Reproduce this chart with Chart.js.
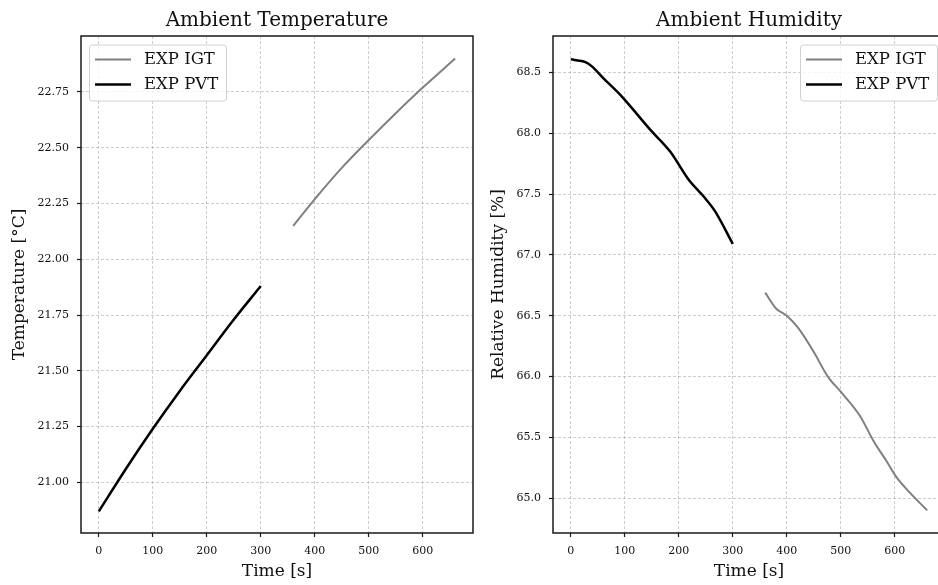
<!DOCTYPE html>
<html>
<head>
<meta charset="utf-8">
<script src="https://cdn.jsdelivr.net/npm/chart.js@4.4.1/dist/chart.umd.min.js"></script>
<style>
  html, body { margin: 0; padding: 0; background: #fff; overflow: hidden; }
  #wrap { position: relative; width: 938px; height: 585px; overflow: hidden; }
  canvas { position: absolute; top: 0; }
  #tempChart { left: 0; }
  #humChart { left: 469px; }
</style>
</head>
<body>
<div id="wrap">
  <canvas id="tempChart" width="480" height="585"></canvas>
  <canvas id="humChart" width="480" height="585"></canvas>
</div>
<script>
// --- data ---
const timeTempPvt = [0, 50, 100, 150, 200, 250, 300];
const tempPvt = [20.87, 21.06, 21.24, 21.41, 21.57, 21.73, 21.88];

const timeTempIgt = [360, 400, 450, 500, 550, 600, 660];
const tempIgt = [22.15, 22.27, 22.41, 22.535, 22.655, 22.77, 22.90];

const timeHumPvt = [0, 10, 27, 39, 61, 95, 147, 184, 218, 246, 267, 300];
const humPvt = [68.61, 68.60, 68.585, 68.55, 68.45, 68.30, 68.03, 67.85, 67.62, 67.48, 67.36, 67.09];

const timeHumIgt = [360, 380, 400, 421, 449, 476, 501, 535, 562, 584, 602, 627, 660];
const humIgt = [66.69, 66.56, 66.50, 66.40, 66.21, 66.00, 65.87, 65.68, 65.46, 65.31, 65.18, 65.05, 64.90];

const timeTicks = [0, 100, 200, 300, 400, 500, 600];
const tempTicks = [21.0, 21.25, 21.5, 21.75, 22.0, 22.25, 22.5, 22.75];
const humTicks = [65.0, 65.5, 66.0, 66.5, 67.0, 67.5, 68.0, 68.5];

const COLORS = {
  igt: '#808080',
  pvt: '#000000',
  frame: '#1a1a1a',
  grid: 'rgba(150,150,150,0.6)',
  text: '#111111'
};
const FONT = '"DejaVu Serif", "Liberation Serif", serif';

function toPoints(xs, ys) {
  return xs.map((x, i) => ({ x: x, y: ys[i] }));
}

// title centred over the plot area, frame on all four sides, legend inside the axes
const axesDecor = {
  id: 'axesDecor',
  afterDraw(chart, args, opts) {
    const ctx = chart.ctx;
    const a = chart.chartArea;
    ctx.save();
    // frame
    ctx.strokeStyle = COLORS.frame;
    ctx.lineWidth = 1.5;
    ctx.strokeRect(a.left, a.top, a.right - a.left, a.bottom - a.top);

    // title
    ctx.fillStyle = COLORS.text;
    ctx.font = '20px ' + FONT;
    ctx.textAlign = 'center';
    ctx.textBaseline = 'alphabetic';
    ctx.fillText(opts.title, (a.left + a.right) / 2, 26);

    // legend
    const boxW = 137, boxH = 56;
    const bx = opts.legendSide === 'right' ? a.right - 8 - boxW : a.left + 8;
    const by = a.top + 8.5;
    ctx.beginPath();
    ctx.roundRect(bx + 0.5, by + 0.5, boxW, boxH, 3);
    ctx.fillStyle = 'rgba(255,255,255,0.8)';
    ctx.fill();
    ctx.strokeStyle = '#d0d0d0';
    ctx.lineWidth = 1;
    ctx.stroke();

    ctx.font = '16.5px ' + FONT;
    ctx.textAlign = 'left';
    ctx.textBaseline = 'middle';
    chart.data.datasets.forEach((ds, i) => {
      const y = by + 15 + i * 25;
      ctx.beginPath();
      ctx.strokeStyle = ds.borderColor;
      ctx.lineWidth = ds.borderWidth;
      ctx.moveTo(bx + 6, y);
      ctx.lineTo(bx + 42, y);
      ctx.stroke();
      ctx.fillStyle = COLORS.text;
      ctx.fillText(ds.label, bx + 55, y);
    });
    ctx.restore();
  }
};

function makeChart(canvasId, cfg) {
  const ctx = document.getElementById(canvasId);
  return new Chart(ctx, {
    type: 'line',
    data: {
      datasets: [{
        label: 'EXP IGT',
        data: cfg.igt,
        borderColor: COLORS.igt,
        borderWidth: 2,
        pointRadius: 0,
        cubicInterpolationMode: 'monotone',
        fill: false
      }, {
        label: 'EXP PVT',
        data: cfg.pvt,
        borderColor: COLORS.pvt,
        borderWidth: 2.5,
        pointRadius: 0,
        cubicInterpolationMode: 'monotone',
        fill: false
      }]
    },
    options: {
      responsive: false,
      animation: false,
      devicePixelRatio: 1,
      layout: { padding: { left: 0, right: cfg.padRight, top: 36, bottom: 0 } },
      plugins: {
        legend: { display: false },
        tooltip: { enabled: false },
        axesDecor: { title: cfg.title, legendSide: cfg.legendSide }
      },
      scales: {
        x: {
          type: 'linear',
          min: -33,
          max: 693,
          afterFit: s => { s.height = 52; },
          afterBuildTicks: s => { s.ticks = timeTicks.map(v => ({ value: v })); },
          ticks: {
            color: COLORS.text,
            font: { family: FONT, size: 11 },
            padding: 8,
            maxRotation: 0,
            autoSkip: false
          },
          grid: {
            color: COLORS.grid,
            lineWidth: 0.8,
            tickLength: 4,
            tickColor: COLORS.frame,
            tickWidth: 1.2,
            tickBorderDash: []
          },
          border: { display: false, dash: [3, 2] },
          title: {
            display: true,
            text: 'Time [s]',
            color: COLORS.text,
            font: { family: FONT, size: 17 },
            padding: { top: 0, bottom: 3 }
          }
        },
        y: {
          type: 'linear',
          min: cfg.yMin,
          max: cfg.yMax,
          afterFit: s => { s.width = cfg.yAxisWidth; },
          afterBuildTicks: s => { s.ticks = cfg.yTicks.map(v => ({ value: v })); },
          ticks: {
            color: COLORS.text,
            font: { family: FONT, size: 11 },
            padding: 8,
            callback: v => v.toFixed(cfg.decimals)
          },
          grid: {
            color: COLORS.grid,
            lineWidth: 0.8,
            tickLength: 4,
            tickColor: COLORS.frame,
            tickWidth: 1.2,
            tickBorderDash: []
          },
          border: { display: false, dash: [3, 2] },
          title: {
            display: true,
            text: cfg.yLabel,
            color: COLORS.text,
            font: { family: FONT, size: 17 },
            padding: { top: cfg.yTitlePad, bottom: 0 }
          }
        }
      }
    },
    plugins: [axesDecor]
  });
}

makeChart('tempChart', {
  title: 'Ambient Temperature',
  yLabel: 'Temperature [°C]',
  igt: toPoints(timeTempIgt, tempIgt),
  pvt: toPoints(timeTempPvt, tempPvt),
  yMin: 20.773,
  yMax: 23.001,
  yTicks: tempTicks,
  decimals: 2,
  yAxisWidth: 81,
  yTitlePad: 9,
  padRight: 7,
  legendSide: 'left'
});

makeChart('humChart', {
  title: 'Ambient Humidity',
  yLabel: 'Relative Humidity [%]',
  igt: toPoints(timeHumIgt, humIgt),
  pvt: toPoints(timeHumPvt, humPvt),
  yMin: 64.714,
  yMax: 68.80,
  yTicks: humTicks,
  decimals: 1,
  yAxisWidth: 84,
  yTitlePad: 19,
  padRight: 4,
  legendSide: 'right'
});
</script>
</body>
</html>
